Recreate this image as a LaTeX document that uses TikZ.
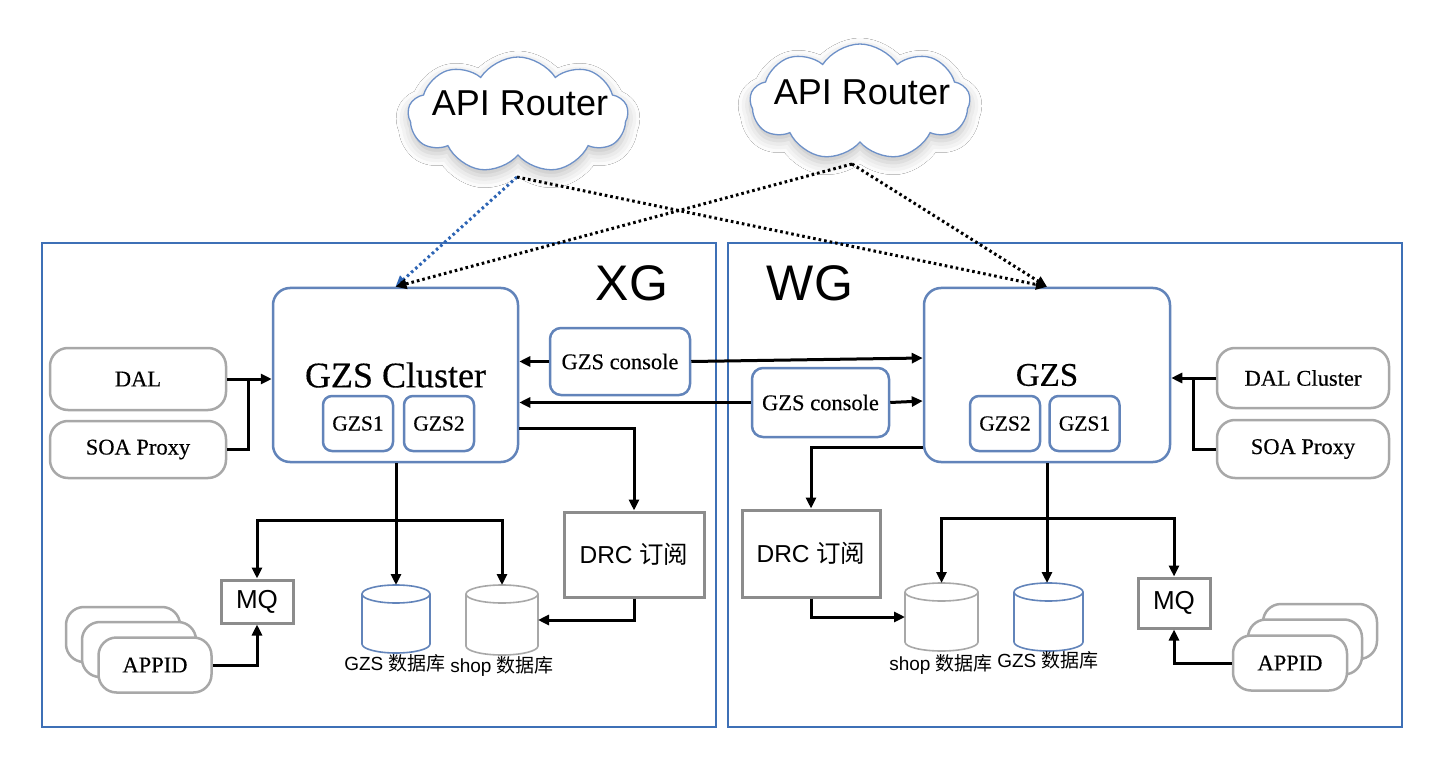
\documentclass[tikz,border=0pt]{standalone}
\usepackage{fontspec}
\setmainfont{Liberation Serif}[FakeBold=0.35]
\newfontfamily\sansf{Liberation Sans}
\newfontfamily\cjkf{Noto Sans CJK SC}
\usetikzlibrary{shapes.symbols,shapes.geometric,arrows.meta,shadows.blur}
\definecolor{regblue}{RGB}{62,112,182}
\definecolor{nodeblue}{RGB}{98,132,186}
\definecolor{nodegray}{RGB}{168,168,168}
\definecolor{sqgray}{RGB}{140,140,140}
\definecolor{cloudblue}{RGB}{110,145,200}
\definecolor{dotblue}{RGB}{45,100,180}
% draws a database cylinder over the (invisible) node #1; #2 colour, #3 half width
\newcommand\dbcyl[3]{%
  \draw[line width=1.6pt,draw=#2,fill=white]
    ([yshift=-9pt]#1.north west) -- ([yshift=9pt]#1.south west)
    arc[start angle=180,end angle=360,x radius=#3pt,y radius=9pt]
    -- ([yshift=-9pt]#1.north east)
    arc[start angle=0,end angle=180,x radius=#3pt,y radius=9pt] -- cycle;
  \draw[line width=1.6pt,draw=#2]
    ([yshift=-9pt]#1.north west) arc[start angle=180,end angle=360,x radius=#3pt,y radius=9pt];
}
\begin{document}
\begin{tikzpicture}[x=1pt,y=-1pt,
  region/.style={draw=regblue,line width=2.5pt,minimum width=674pt,minimum height=484pt,inner sep=0pt},
  bigbox/.style={draw=nodeblue,line width=2.5pt,rounded corners=17pt,fill=white,inner sep=0pt,minimum width=245pt,minimum height=174pt},
  smallbox/.style={draw=nodeblue,line width=2.5pt,rounded corners=9pt,fill=white,inner sep=0pt,minimum width=70pt,minimum height=55pt,font=\fontsize{21.5}{24}\selectfont},
  consolebox/.style={draw=nodeblue,line width=2.5pt,rounded corners=11pt,fill=white,inner sep=0pt,font=\fontsize{22.5}{26}\selectfont},
  graybox/.style={draw=nodegray,line width=2.5pt,rounded corners=18pt,fill=white,inner sep=0pt,font=\fontsize{22.5}{26}\selectfont},
  sqbox/.style={draw=sqgray,line width=3pt,fill=white,inner sep=0pt},
  dbbox/.style={draw=none,inner sep=0pt,outer sep=0pt},
  dblabel/.style={font=\sansf\fontsize{19}{22}\selectfont,inner sep=0pt},
  arr/.style={line width=3pt,-{Triangle[length=11pt,width=10pt]}},
  plain/.style={line width=3pt},
  dotarr/.style={line width=3pt,dash pattern=on 2.6pt off 3pt,-{Triangle[length=11pt,width=10pt]}},
  cloudn/.style={cloud,cloud puffs=9,cloud puff arc=115,draw=cloudblue,line width=1.3pt,fill=white,minimum width=220pt,minimum height=116pt,inner sep=0pt,
     blur shadow={shadow xshift=0pt,shadow yshift=-6pt,shadow blur radius=12pt,shadow opacity=25}},
  bigtxt/.style={font=\sansf\fontsize{50}{56}\selectfont,inner sep=0pt},
  routertxt/.style={font=\sansf\fontsize{36}{40}\selectfont,inner sep=0pt}
]
\useasboundingbox (0,0) rectangle (1440,759);
\fill[white] (0,0) rectangle (1440,759);

% regions
\node[region] (xg) at (379,485) {};
\node[region] (wg) at (1065,485) {};
\node[bigtxt] (xgt) at (632,283) {XG};
\node[bigtxt] (wgt) at (810,283) {WG};

% clouds
\node[cloudn] (cloudA) at (518,115) {};
\node[routertxt] (cloudAt) at (520,103) {API Router};
\node[cloudn] (cloudB) at (860,102) {};
\node[routertxt] (cloudBt) at (862,92) {API Router};
\coordinate (cAo) at ([shift={(-1pt,-62pt)}]cloudA.center);
\coordinate (cBo) at ([shift={(-8pt,-62pt)}]cloudB.center);

% left side
\node[bigbox,font=\fontsize{36}{40}\selectfont] (cluster) at (395.5,375) {GZS Cluster};
\node[smallbox] (gzs1L) at (358,423.5) {GZS1};
\node[smallbox] (gzs2L) at (439,423.5) {GZS2};
\node[consolebox,minimum width=140pt,minimum height=67pt] (consoleA) at (620,361.5) {GZS console};
\node[graybox,minimum width=176pt,minimum height=62pt] (dalL) at (138,379) {DAL};
\node[graybox,minimum width=176pt,minimum height=57pt] (soaL) at (138,449.5) {SOA Proxy};
\node[sqbox,minimum width=72pt,minimum height=43pt,font=\sansf\fontsize{26}{30}\selectfont] (mqL) at (257,601.5) {MQ};
\node[sqbox,minimum width=140pt,minimum height=85pt,font=\sansf\fontsize{24.5}{28}\selectfont] (drcL) at (634,554.5) {DRC {\cjkf 订阅}};
\node[dbbox,minimum width=68pt,minimum height=68pt] (gzsdbL) at (396,619) {};
\dbcyl{gzsdbL}{nodeblue}{34}
\node[dbbox,minimum width=72pt,minimum height=70pt] (shopdbL) at (502,620) {};
\dbcyl{shopdbL}{nodegray}{36}
\node[dblabel] (gzsdbLt) at (395,663) {GZS {\cjkf 数据库}};
\node[dblabel] (shopdbLt) at (502,666) {shop {\cjkf 数据库}};
\node[graybox,minimum width=114pt,minimum height=55pt] (appL3) at (123,634.5) {};
\node[graybox,minimum width=114pt,minimum height=55pt] (appL2) at (139,649.5) {};
\node[graybox,minimum width=113pt,minimum height=55pt] (appL) at (155,665) {APPID};

% right side
\node[bigbox,minimum width=246pt,font=\fontsize{33}{36}\selectfont] (gzsR) at (1047,375) {GZS};
\node[smallbox] (gzs2R) at (1005,423.5) {GZS2};
\node[smallbox] (gzs1R) at (1084.5,423.5) {GZS1};
\node[consolebox,minimum width=137pt,minimum height=69pt] (consoleB) at (820.5,402.5) {GZS console};
\node[graybox,minimum width=172pt,minimum height=60pt] (dalR) at (1303,378) {DAL Cluster};
\node[graybox,minimum width=172pt,minimum height=58pt] (soaR) at (1303,449) {SOA Proxy};
\node[sqbox,minimum width=72pt,minimum height=50pt,font=\sansf\fontsize{26}{30}\selectfont] (mqR) at (1174,603) {MQ};
\node[sqbox,minimum width=138pt,minimum height=87pt,font=\sansf\fontsize{24.5}{28}\selectfont] (drcR) at (811,553.5) {DRC {\cjkf 订阅}};
\node[dbbox,minimum width=73pt,minimum height=68pt] (shopdbR) at (941.5,617) {};
\dbcyl{shopdbR}{nodegray}{36.5}
\node[dbbox,minimum width=69pt,minimum height=68pt] (gzsdbR) at (1048.5,617) {};
\dbcyl{gzsdbR}{nodeblue}{34.5}
\node[dblabel] (shopdbRt) at (941,664) {shop {\cjkf 数据库}};
\node[dblabel] (gzsdbRt) at (1048,660) {GZS {\cjkf 数据库}};
\node[graybox,minimum width=114pt,minimum height=55pt] (appR3) at (1320,631.5) {};
\node[graybox,minimum width=114pt,minimum height=55pt] (appR2) at (1305,647) {};
\node[graybox,minimum width=114pt,minimum height=55pt] (appR) at (1290,663) {APPID};

% dotted connectors from routers
\draw[dotarr,draw=dotblue,-{Triangle[length=11pt,width=10pt,fill=black]}] (cAo) -- (cluster.north);
\draw[dotarr] (cAo) -- (gzsR.north);
\draw[dotarr] (cBo) -- (cluster.north);
\draw[dotarr] (cBo) -- (gzsR.north);

% consoles
\draw[arr] (consoleA.west) -- (consoleA.west -| cluster.east);
\draw[arr] (consoleA.east) -- ([yshift=17pt]gzsR.west);
\draw[arr] (consoleB.west) -- (consoleB.west -| cluster.east);
\draw[arr] (consoleB.east) -- ([yshift=-26pt]gzsR.west);

% DAL / SOA left
\coordinate (jL) at (248,378);
\draw[arr] (dalL.east) -- (dalL.east -| cluster.west);
\draw[plain] (soaL.east) -| (jL);
% DAL / SOA right
\coordinate (jR) at (1193,377);
\draw[arr] (dalR.west) -- (dalR.west -| gzsR.east);
\draw[plain] (soaR.west) -| (jR);

% left bus
\coordinate (busL) at (396,520);
\draw[plain] (cluster.south -| busL) -- (busL);
\draw[arr] (busL) -- (gzsdbL.north);
\draw[arr] (busL) -| (mqL.north);
\draw[arr] (busL) -| (shopdbL.north);
\draw[arr] ([yshift=-53pt]cluster.east) -| (drcL.north);
\draw[arr] (drcL.south) |- (shopdbL.east);
\draw[arr] (appL.east) -| (mqL.south);

% right bus
\coordinate (busR) at (1047,518);
\draw[plain] (gzsR.south) -- (busR);
\draw[arr] (busR) -- (busR |- gzsdbR.north);
\draw[arr] (busR) -| (shopdbR.north);
\draw[arr] (busR) -| (mqR.north);
\draw[arr] ([yshift=-72pt]gzsR.west) -| (drcR.north);
\draw[arr] (drcR.south) |- (shopdbR.west);
\draw[arr] (appR.west) -| (mqR.south);
\end{tikzpicture}
\end{document}
